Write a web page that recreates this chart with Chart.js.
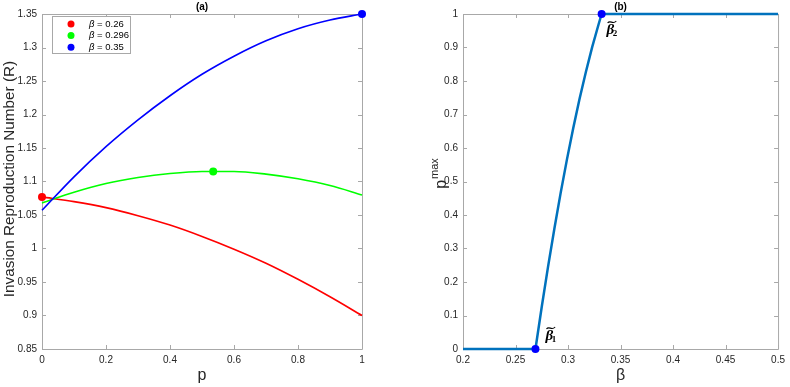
<!DOCTYPE html>
<html>
<head>
<meta charset="utf-8">
<script src="https://cdn.jsdelivr.net/npm/chart.js@4.4.1/dist/chart.umd.min.js"></script>
<style>
  html, body { margin: 0; padding: 0; background: #fff; }
  #wrap { position: relative; width: 790px; height: 387px; }
  .panel { position: absolute; top: 0; width: 395px; height: 387px; }
</style>
</head>
<body>
<div id="wrap">
  <div class="panel" style="left:0"><canvas id="chartA" width="395" height="387"></canvas></div>
  <div class="panel" style="left:395px"><canvas id="chartB" width="395" height="387"></canvas></div>
</div>
<script>
// panel (a): R against p for three beta values
var pValues   = [0, 0.1, 0.2, 0.3, 0.4, 0.5, 0.6, 0.7, 0.8, 0.9, 1];
var rBeta026  = [1.077, 1.070, 1.061, 1.049, 1.035, 1.018, 0.999, 0.978, 0.954, 0.928, 0.900];
var rBeta0296 = [1.068, 1.084, 1.097, 1.106, 1.112, 1.115, 1.115, 1.111, 1.104, 1.094, 1.080];
var rBeta035  = [1.057, 1.107, 1.152, 1.192, 1.228, 1.260, 1.287, 1.310, 1.328, 1.341, 1.350];
var betaValues = ['0.26', '0.296', '0.35'];
var seriesColors = ['#ff0000', '#00ff00', '#0000ff'];
var optimumP = [0, 0.535, 1];
var optimumR = [1.077, 1.115, 1.35];
var pTicks = [0, 0.2, 0.4, 0.6, 0.8, 1];
var rTicks = [0.85, 0.9, 0.95, 1, 1.05, 1.1, 1.15, 1.2, 1.25, 1.3, 1.35];

// panel (b): p max against beta
var betaGrid   = [0.2, 0.269, 0.275, 0.281, 0.287, 0.293, 0.299, 0.305, 0.311, 0.317, 0.323, 0.329, 0.332, 0.5];
var pMaxValues = [0, 0, 0.126, 0.246, 0.359, 0.466, 0.566, 0.660, 0.747, 0.827, 0.901, 0.968, 1, 1];
var criticalBeta = [0.269, 0.332];
var criticalP = [0, 1];
var criticalNames = ['1', '2'];
var betaTicks = [0.2, 0.25, 0.3, 0.35, 0.4, 0.45, 0.5];
var pMaxTicks = [0, 0.1, 0.2, 0.3, 0.4, 0.5, 0.6, 0.7, 0.8, 0.9, 1];

var FONT = 'Helvetica, "Liberation Sans", Arial, sans-serif';
var SERIF = '"Liberation Serif", "DejaVu Serif", serif';
var AXIS_GRAY = '#a8a8a8';
var TEXT = '#262626';

Chart.defaults.font.family = FONT;
Chart.defaults.color = TEXT;

function toPoints(xs, ys) {
  return xs.map(function (x, i) { return { x: x, y: ys[i] }; });
}

function makeAxis(min, max, tickList, size) {
  return {
    type: 'linear', min: min, max: max,
    grid: { display: false, drawTicks: false },
    border: { display: false },
    ticks: {
      padding: 5, autoSkip: false, maxRotation: 0, color: TEXT,
      font: { size: 10 },
      callback: function (v) { return String(v); }
    },
    afterBuildTicks: function (s) { s.ticks = tickList.map(function (v) { return { value: v }; }); },
    afterFit: function (s) { if (s.isHorizontal()) s.height = size; else s.width = size; }
  };
}

// matlab style box with inward ticks on all four sides
var axisBox = {
  id: 'axisBox',
  beforeDatasetsDraw: function (chart) {
    var ctx = chart.ctx, a = chart.chartArea, xs = chart.scales.x, ys = chart.scales.y;
    var len = 4;
    ctx.save();
    ctx.strokeStyle = AXIS_GRAY;
    ctx.lineWidth = 1;
    ctx.beginPath();
    ctx.rect(a.left + 0.5, a.top + 0.5, a.right - a.left, a.bottom - a.top);
    xs.ticks.forEach(function (t, i) {
      var px = Math.round(xs.getPixelForTick(i)) + 0.5;
      ctx.moveTo(px, a.bottom); ctx.lineTo(px, a.bottom - len);
      ctx.moveTo(px, a.top); ctx.lineTo(px, a.top + len);
    });
    ys.ticks.forEach(function (t, i) {
      var py = Math.round(ys.getPixelForTick(i)) + 0.5;
      ctx.moveTo(a.left, py); ctx.lineTo(a.left + len, py);
      ctx.moveTo(a.right, py); ctx.lineTo(a.right - len, py);
    });
    ctx.stroke();
    ctx.restore();
  }
};

function drawPanelTitle(ctx, a, txt) {
  ctx.font = 'bold 10px ' + FONT;
  ctx.fillStyle = '#000';
  ctx.textAlign = 'center';
  ctx.textBaseline = 'middle';
  ctx.fillText(txt, (a.left + a.right) / 2, 7);
}

var panelA = {
  id: 'panelA',
  afterDraw: function (chart) {
    var ctx = chart.ctx, a = chart.chartArea;
    ctx.save();
    drawPanelTitle(ctx, a, '(a)');

    ctx.fillStyle = TEXT;
    ctx.font = '16px ' + FONT;
    ctx.textAlign = 'center';
    ctx.textBaseline = 'alphabetic';
    ctx.fillText('p', (a.left + a.right) / 2, 380);

    ctx.save();
    ctx.translate(14, 179);
    ctx.rotate(-Math.PI / 2);
    ctx.font = '15.3px ' + FONT;
    ctx.fillText('Invasion Reproduction Number (R)', 0, 0);
    ctx.restore();

    // legend
    var lx = a.left + 10, ly = a.top + 2, lw = 78, lh = 37;
    ctx.fillStyle = '#fff';
    ctx.fillRect(lx, ly, lw, lh);
    ctx.strokeStyle = AXIS_GRAY;
    ctx.lineWidth = 1;
    ctx.strokeRect(lx + 0.5, ly + 0.5, lw, lh);
    ctx.textAlign = 'left';
    ctx.textBaseline = 'middle';
    betaValues.forEach(function (b, i) {
      var y = ly + 8 + i * 11.6;
      ctx.fillStyle = seriesColors[i];
      ctx.beginPath();
      ctx.arc(lx + 19, y, 3.5, 0, 2 * Math.PI);
      ctx.fill();
      ctx.fillStyle = '#000';
      var tx = lx + 37;
      ctx.font = 'italic 9.5px ' + FONT;
      ctx.fillText('β', tx, y);
      var w = ctx.measureText('β').width;
      ctx.font = '9.5px ' + FONT;
      ctx.fillText(' = ' + b, tx + w, y);
    });
    ctx.restore();
  }
};

function drawBetaTilde(ctx, x, y, sub) {
  ctx.fillStyle = '#000';
  ctx.textAlign = 'left';
  ctx.textBaseline = 'alphabetic';
  ctx.font = 'bold italic 15px ' + SERIF;
  ctx.fillText('β', x, y);
  var w = ctx.measureText('β').width;
  // wide tilde accent just above the beta
  var t0 = x + 1, t1 = x + w + 2, ty = y - 12;
  ctx.strokeStyle = '#000';
  ctx.lineWidth = 1.1;
  ctx.beginPath();
  ctx.moveTo(t0, ty + 1);
  ctx.bezierCurveTo(t0 + (t1 - t0) * 0.3, ty - 2.5, t0 + (t1 - t0) * 0.6, ty + 3, t1, ty - 1);
  ctx.stroke();
  ctx.font = 'bold 9px ' + SERIF;
  ctx.fillText(sub, x + w - 1.5, y + 2);
}

var panelB = {
  id: 'panelB',
  afterDraw: function (chart) {
    var ctx = chart.ctx, a = chart.chartArea, xs = chart.scales.x, ys = chart.scales.y;
    ctx.save();
    drawPanelTitle(ctx, a, '(b)');

    ctx.fillStyle = TEXT;
    ctx.font = '16px ' + FONT;
    ctx.textAlign = 'center';
    ctx.textBaseline = 'alphabetic';
    ctx.fillText('β', (a.left + a.right) / 2, 380);

    // p^max, rotated
    ctx.save();
    ctx.translate(51, 174);
    ctx.rotate(-Math.PI / 2);
    ctx.textAlign = 'left';
    ctx.font = '16px ' + FONT;
    var wp = ctx.measureText('p').width;
    ctx.font = '11px ' + FONT;
    var wm = ctx.measureText('max').width;
    var x0 = -(wp + wm) / 2;
    ctx.font = '16px ' + FONT;
    ctx.fillText('p', x0, 0);
    ctx.font = '11px ' + FONT;
    ctx.fillText('max', x0 + wp + 1, -8);
    ctx.restore();

    // critical beta labels
    criticalBeta.forEach(function (b, i) {
      var px = xs.getPixelForValue(b), py = ys.getPixelForValue(criticalP[i]);
      if (i === 0) drawBetaTilde(ctx, px + 10, py - 9, criticalNames[i]);
      else drawBetaTilde(ctx, px + 5, py + 20, criticalNames[i]);
    });
    ctx.restore();
  }
};

// chart (a)
var curveSets = [rBeta035, rBeta0296, rBeta026].map(function (vals, k) {
  var i = 2 - k;
  return {
    data: toPoints(pValues, vals),
    borderColor: seriesColors[i],
    borderWidth: 1.6,
    pointRadius: 0,
    cubicInterpolationMode: 'monotone',
    clip: false
  };
});
var markerSets = optimumP.map(function (p, i) {
  return {
    data: [{ x: p, y: optimumR[i] }],
    showLine: false,
    pointRadius: 4,
    pointBorderWidth: 0,
    pointBackgroundColor: seriesColors[i],
    clip: false
  };
});

new Chart(document.getElementById('chartA'), {
  type: 'line',
  data: { datasets: markerSets.concat(curveSets) },
  options: {
    responsive: false,
    animation: false,
    layout: { padding: { left: 0, right: 33, top: 14, bottom: 0 } },
    plugins: { legend: { display: false }, tooltip: { enabled: false } },
    scales: {
      x: makeAxis(0, 1, pTicks, 38),
      y: makeAxis(0.85, 1.35, rTicks, 42)
    }
  },
  plugins: [axisBox, panelA]
});

// chart (b)
new Chart(document.getElementById('chartB'), {
  type: 'line',
  data: {
    datasets: [{
      data: toPoints(criticalBeta, criticalP),
      showLine: false,
      pointRadius: 4,
      pointBorderWidth: 0,
      pointBackgroundColor: '#0000ff',
      clip: false
    }, {
      data: toPoints(betaGrid, pMaxValues),
      borderColor: '#0072bd',
      borderWidth: 2.5,
      borderJoinStyle: 'round',
      pointRadius: 0,
      tension: 0,
      clip: false
    }]
  },
  options: {
    responsive: false,
    animation: false,
    layout: { padding: { left: 0, right: 8, top: 14, bottom: 0 } },
    plugins: { legend: { display: false }, tooltip: { enabled: false } },
    scales: {
      x: makeAxis(0.2, 0.5, betaTicks, 38),
      y: makeAxis(0, 1, pMaxTicks, 68)
    }
  },
  plugins: [axisBox, panelB]
});
</script>
</body>
</html>
